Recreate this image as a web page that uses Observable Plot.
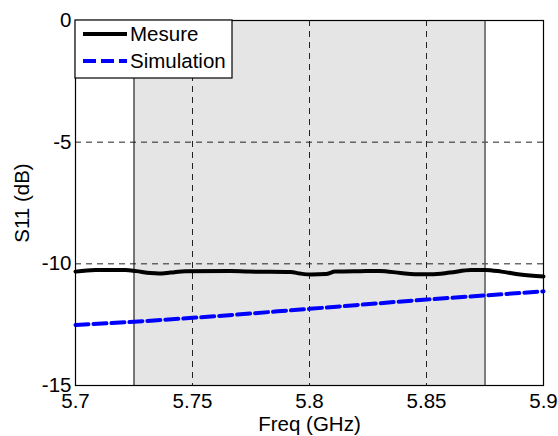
<!DOCTYPE html>
<html><head><meta charset="utf-8">
<script src="https://cdn.jsdelivr.net/npm/d3@7"></script>
<script src="https://cdn.jsdelivr.net/npm/@observablehq/plot@0.6"></script>
<style>
body{margin:0;background:#fff;font-family:"Liberation Sans",Arial,sans-serif}
#chart{position:relative;width:558px;height:436px}
</style>
</head><body><div id="chart"></div>
<script>
// Measured S11 (dB) vs frequency (GHz)
const mesureFreq = [5.700,5.7085,5.7214,5.726,5.732,5.7355,5.7406,5.747,5.7662,5.774,5.792,5.796,5.8009,5.807,5.811,5.822,5.830,5.839,5.845,5.852,5.860,5.869,5.875,5.882,5.890,5.900];
const mesureS11  = [-10.32,-10.25,-10.25,-10.30,-10.38,-10.40,-10.36,-10.30,-10.29,-10.32,-10.34,-10.40,-10.44,-10.42,-10.32,-10.30,-10.29,-10.38,-10.43,-10.43,-10.36,-10.25,-10.25,-10.32,-10.44,-10.52];
// Simulated S11
const simFreq = [5.700,5.725,5.750,5.800,5.850,5.875,5.900];
const simS11  = [-12.51,-12.38,-12.22,-11.85,-11.47,-11.30,-11.13];
// Shaded band
const bandStart = [5.725];
const bandEnd = [5.875];
// Ticks and grid
const xTicks = [5.7,5.75,5.8,5.85,5.9];
const yTicks = [0,-5,-10,-15];
const gridX = [5.75,5.8,5.85];
const gridY = [-5,-10];
const seriesNames = ["Mesure","Simulation"];
const seriesColors = ["#000000","#0000ff"];
const seriesDash = [null,"13,5"];

const mesure = mesureFreq.map((f,i)=>({f, v: mesureS11[i]}));
const sim = simFreq.map((f,i)=>({f, v: simS11[i]}));
const bandData = bandStart.map((s,i)=>({x1:s, x2:bandEnd[i]}));

const W = 558, H = 436, mL = 75, mR = 15, mT = 20, mB = 51;
const FS = "20.5px";

const plot = Plot.plot({
  width: W, height: H,
  marginLeft: mL, marginRight: mR, marginTop: mT, marginBottom: mB,
  style: {fontSize: FS, fontFamily: "'Liberation Sans', Arial, sans-serif", color: "#000", background: "#fff"},
  x: {domain: [5.7, 5.9]},
  y: {domain: [-15, 0]},
  marks: [
    Plot.rect(bandData, {x1: "x1", x2: "x2", y1: -15, y2: 0, fill: "#e5e5e5"}),
    Plot.ruleX(gridX, {stroke: "#222", strokeWidth: 1, strokeDasharray: "6,5"}),
    Plot.ruleY(gridY, {stroke: "#222", strokeWidth: 1, strokeDasharray: "6,5"}),
    Plot.ruleX(bandStart, {stroke: "#000", strokeWidth: 1}),
    Plot.ruleX(bandEnd, {stroke: "#555", strokeWidth: 1.5}),
    Plot.line(mesure, {x: "f", y: "v", stroke: seriesColors[0], strokeWidth: 4, curve: "monotone-x"}),
    Plot.line(sim, {x: "f", y: "v", stroke: seriesColors[1], strokeWidth: 4, strokeDasharray: seriesDash[1], curve: "monotone-x"}),
    Plot.frame({stroke: "#000", strokeWidth: 1.2}),
    Plot.axisX(xTicks, {tickSize: 0, tickPadding: 8, label: "Freq (GHz)", labelAnchor: "center", labelArrow: "none", labelOffset: 45, tickFormat: d => String(d)}),
    Plot.axisY(yTicks, {tickSize: 0, tickPadding: 4, label: "S11 (dB)", labelAnchor: "center", labelArrow: "none", labelOffset: 61, tickFormat: d => String(d)})
  ]
});

document.getElementById("chart").appendChild(plot);

// Legend inside plot area (top-left), built from series arrays
const svg = d3.select(plot);
const lg = svg.append("g").attr("transform", `translate(${mL},${mT})`);
lg.append("rect").attr("x", 0).attr("y", 0).attr("width", 157).attr("height", 58)
  .attr("fill", "#fff").attr("stroke", "#000").attr("stroke-width", 1.2);
seriesNames.forEach((name, i) => {
  const cy = 14 + i * 27;
  lg.append("line").attr("x1", 8).attr("x2", 52).attr("y1", cy).attr("y2", cy)
    .attr("stroke", seriesColors[i]).attr("stroke-width", 4)
    .attr("stroke-dasharray", seriesDash[i]);
  lg.append("text").attr("x", 55).attr("y", cy).attr("dy", "0.35em")
    .attr("text-anchor", "start")
    .attr("font-size", FS).attr("fill", "#000").text(name);
});
</script>
</body></html>
